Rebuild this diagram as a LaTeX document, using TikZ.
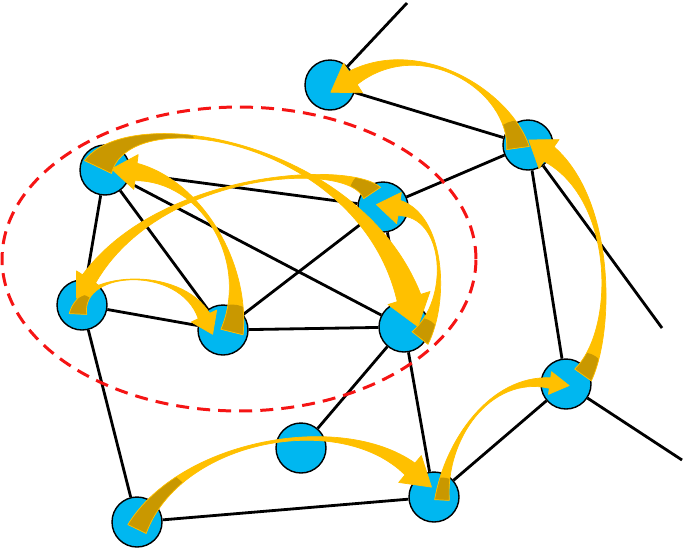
\documentclass[tikz,border=0pt]{standalone}
\usetikzlibrary{calc}
\definecolor{NodeCyan}{RGB}{0,183,240}
\definecolor{ArrowGold}{RGB}{255,192,0}
\definecolor{DarkGold}{RGB}{201,152,0}
\definecolor{RingRed}{RGB}{245,20,20}
\newcommand{\swoop}[9]{% #1 cola, #2 y #3 controles, #4 base de la punta,
  % #5 media anchura cola, #6 media anchura final, #7 media anchura punta, #8 largo punta, #9 radio parte oscura
  \coordinate (sw-s) at (#1);
  \coordinate (sw-a) at (#2);
  \coordinate (sw-b) at (#3);
  \coordinate (sw-e) at (#4);
  \def\swband{($(sw-s)!#5!90:(sw-a)$) .. controls (sw-a) and (sw-b) .. ($(sw-e)!#6!-90:(sw-b)$)
    -- ($(sw-e)!#7!-90:(sw-b)$) -- ($(sw-e)!#8!180:(sw-b)$) -- ($(sw-e)!#7!90:(sw-b)$)
    -- ($(sw-e)!#6!90:(sw-b)$) .. controls (sw-b) and (sw-a) .. ($(sw-s)!#5!-90:(sw-a)$) -- cycle}
  \fill[ArrowGold] \swband;
  \begin{scope}
    \clip (sw-s) circle (#9);
    \fill[DarkGold] \swband;
  \end{scope}
  \draw[ArrowGold, line width=0.4pt, line join=round] \swband;
}

\begin{document}
\begin{tikzpicture}[
    x=0.02cm, y=-0.02cm,
    dot/.style={circle, draw=black, line width=0.8pt, fill=NodeCyan,
        minimum size=1cm, inner sep=0pt},
    link/.style={line width=1.6pt},
    ring/.style={draw=RingRed, line width=1.7pt, dash pattern=on 7.4pt off 4.6pt},
]
\useasboundingbox (0,0) rectangle (685,549);

% ===== vertices =====
\node[dot] (v1) at (330,85) {};
\node[dot] (v2) at (528,145) {};
\node[dot] (v3) at (105,170) {};
\node[dot] (v4) at (383,207) {};
\node[dot] (v5) at (82,305) {};
\node[dot] (v6) at (223,330) {};
\node[dot] (v7) at (404,327) {};
\node[dot] (v8) at (566,384) {};
\node[dot] (v9) at (301,448) {};
\node[dot] (v10) at (434,497) {};
\node[dot] (v11) at (137,522) {};
\coordinate (v1-out) at (407,3);
\coordinate (v2-out) at (662,328);
\coordinate (v8-out) at (682,460);

% ===== aristas =====
\foreach \a/\b in {v1/v1-out, v1/v2, v2/v4, v2/v8, v2/v2-out, v8/v8-out, v8/v10,
    v3/v4, v3/v5, v3/v6, v3/v7, v4/v6, v4/v7, v5/v6, v6/v7, v5/v11, v11/v10,
    v7/v10, v7/v9}
    \draw[link] (\a) -- (\b);

% ===== grupo =====
\draw[ring] (239,259) ellipse [x radius=4.74cm, y radius=3.04cm];

% ===== recorrido exterior =====
\swoop{$(v11)+(0,7)$}{180,440}{340,410}{$(v10)+(-24,-28)$}{5.8pt}{4.4pt}{10pt}{16pt}{1.3cm}
\swoop{$(v10)+(8,3)$}{445,440}{490,375}{$(v8)+(-16,-1)$}{4.2pt}{3pt}{6.5pt}{11pt}{0.45cm}
\swoop{$(v8)+(17,-9)$}{615,330}{615,200}{$(v2)+(21,9)$}{5.8pt}{5pt}{10pt}{14pt}{0.45cm}
\swoop{$(v2)+(-10,3)$}{510,90}{420,35}{$(v1)+(23,-7)$}{6.5pt}{4.4pt}{10pt}{15pt}{0.55cm}

% ===== recorrido dentro del grupo =====
\swoop{$(v5)+(-4,9)$}{80,270}{180,265}{$(v6)+(-19,-14)$}{5pt}{3.6pt}{8pt}{11.5pt}{0.4cm}
\swoop{$(v6)+(9,2)$}{250,260}{200,180}{$(v3)+(31,2)$}{6.5pt}{5pt}{10pt}{14pt}{0.55cm}
\swoop{$(v3)+(-7,-3)$}{130,100}{360,140}{$(v7)+(5,-29)$}{8.5pt}{7pt}{12.5pt}{17pt}{2cm}
\swoop{$(v7)+(16,11)$}{450,300}{445,215}{$(v4)+(16,1)$}{5.8pt}{4.4pt}{9pt}{13pt}{0.4cm}
\swoop{$(v4)+(-11,-14)$}{350,160}{160,170}{$(v5)+(7,-26)$}{5.8pt}{4.4pt}{8.5pt}{13pt}{0.45cm}

\end{tikzpicture}
\end{document}
